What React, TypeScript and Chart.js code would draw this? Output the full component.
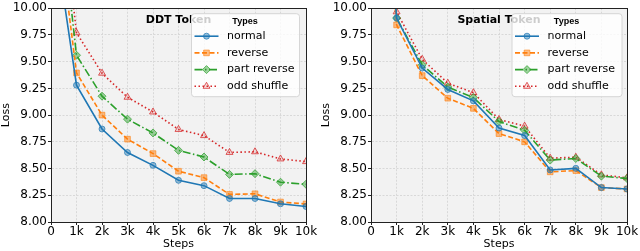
import React, { useEffect, useRef } from 'react';
import { Chart, registerables } from 'chart.js';

Chart.register(...registerables);

const STEPS = [0, 1000, 2000, 3000, 4000, 5000, 6000, 7000, 8000, 9000, 10000];
const SERIES_NAMES = ['normal', 'reverse', 'part reverse', 'odd shuffle'];
const Y_TICKS = [8.0, 8.25, 8.5, 8.75, 9.0, 9.25, 9.5, 9.75, 10.0];

const DDT_NORMAL = [10.9, 9.28, 8.87, 8.65, 8.53, 8.39, 8.34, 8.22, 8.22, 8.17, 8.145];
const DDT_REVERSE = [11.3, 9.395, 9.0, 8.775, 8.64, 8.475, 8.415, 8.258, 8.264, 8.187, 8.169];
const DDT_PART = [11.7, 9.56, 9.177, 8.962, 8.833, 8.67, 8.608, 8.445, 8.452, 8.372, 8.353];
const DDT_ODD = [11.9, 9.77, 9.392, 9.167, 9.029, 8.866, 8.808, 8.651, 8.657, 8.59, 8.565];

const SP_NORMAL = [13.0, 9.908, 9.44, 9.24, 9.133, 8.879, 8.809, 8.487, 8.502, 8.322, 8.309];
const SP_REVERSE = [13.0, 9.844, 9.369, 9.158, 9.063, 8.827, 8.75, 8.469, 8.481, 8.322, 8.309];
const SP_PART = [13.0, 9.908, 9.47, 9.262, 9.164, 8.94, 8.858, 8.579, 8.594, 8.429, 8.407];
const SP_ODD = [13.0, 9.966, 9.522, 9.299, 9.21, 8.959, 8.897, 8.597, 8.606, 8.441, 8.413];

const COLORS = ['#1f77b4', '#ff7f0e', '#2ca02c', '#d62728'];
const FILLS = ['rgba(31,119,180,0.45)', 'rgba(255,127,14,0.5)', 'rgba(44,160,44,0.45)', 'rgba(214,39,40,0.12)'];
const EDGES = ['rgba(31,119,180,0.7)', 'rgba(255,127,14,0.6)', 'rgba(44,160,44,0.7)', 'rgba(214,39,40,0.75)'];
const DASHES: number[][] = [[], [5, 2.5], [8, 2.5, 1.5, 2.5], [1.5, 2.5]];
const POINT_STYLES = ['circle', 'rect', 'rectRot', 'triangle'];
const POINT_RADII = [3, 4, 4, 4];

function drawMarker(ctx: CanvasRenderingContext2D, style: string, x: number, y: number, r: number) {
  ctx.beginPath();
  if (style === 'circle') {
    ctx.arc(x, y, r, 0, Math.PI * 2);
  } else if (style === 'rect') {
    const s = r * Math.SQRT1_2;
    ctx.rect(x - s, y - s, 2 * s, 2 * s);
  } else if (style === 'rectRot') {
    ctx.moveTo(x, y - r);
    ctx.lineTo(x + r, y);
    ctx.lineTo(x, y + r);
    ctx.lineTo(x - r, y);
    ctx.closePath();
  } else {
    ctx.moveTo(x, y - r);
    ctx.lineTo(x + r * 0.866, y + r * 0.5);
    ctx.lineTo(x - r * 0.866, y + r * 0.5);
    ctx.closePath();
  }
  ctx.fill();
  ctx.stroke();
}

const overlayPlugin = {
  id: 'overlay',
  beforeDraw(chart: any) {
    const { ctx, chartArea: a } = chart;
    ctx.save();
    ctx.fillStyle = '#f2f2f2';
    ctx.fillRect(a.left, a.top, a.right - a.left, a.bottom - a.top);
    ctx.restore();
  },
  afterDatasetsDraw(chart: any, _args: any, opts: any) {
    const { ctx, chartArea: a } = chart;
    ctx.save();
    ctx.fillStyle = '#000';
    ctx.font = 'bold 11px "DejaVu Sans"';
    ctx.textAlign = 'center';
    ctx.textBaseline = 'middle';
    ctx.fillText(opts.title, (a.left + a.right) / 2, a.top + 12);

    const bw = opts.lw;
    const bh = 83;
    const bx = a.right - opts.lr - bw;
    const by = a.top + 5;
    ctx.beginPath();
    if ((ctx as any).roundRect) (ctx as any).roundRect(bx + 0.5, by + 0.5, bw, bh, 3);
    else ctx.rect(bx + 0.5, by + 0.5, bw, bh);
    ctx.fillStyle = 'rgba(255,255,255,0.8)';
    ctx.fill();
    ctx.strokeStyle = '#d6d6d6';
    ctx.lineWidth = 1;
    ctx.stroke();

    ctx.fillStyle = '#000';
    ctx.font = 'bold 9px "Liberation Sans"';
    ctx.textAlign = 'center';
    ctx.fillText('Types', bx + bw / 2, by + 8);

    chart.data.datasets.forEach((ds: any, i: number) => {
      const y = by + 23 + i * 16.7;
      ctx.save();
      ctx.strokeStyle = ds.borderColor;
      ctx.lineWidth = 1.6;
      ctx.setLineDash(ds.borderDash || []);
      ctx.beginPath();
      ctx.moveTo(bx + 3.5, y);
      ctx.lineTo(bx + 27.5, y);
      ctx.stroke();
      ctx.setLineDash([]);
      ctx.fillStyle = ds.pointBackgroundColor;
      ctx.strokeStyle = ds.pointBorderColor;
      ctx.lineWidth = 1;
      drawMarker(ctx, ds.pointStyle, bx + 15.5, y, ds.pointRadius);
      ctx.restore();
      ctx.fillStyle = '#000';
      ctx.font = '11px "DejaVu Sans"';
      ctx.textAlign = 'left';
      ctx.textBaseline = 'middle';
      ctx.fillText(ds.label, bx + 36, y);
    });
    ctx.restore();
  },
  afterDraw(chart: any) {
    const { ctx, chartArea: a } = chart;
    ctx.save();
    ctx.strokeStyle = '#222';
    ctx.lineWidth = 1;
    ctx.strokeRect(Math.round(a.left) + 0.5, Math.round(a.top) + 0.5, Math.round(a.right - a.left), Math.round(a.bottom - a.top));
    ctx.restore();
  },
};

function Panel(props: { title: string; series: number[][]; padRight: number; lr: number; lw: number }) {
  const ref = useRef<HTMLCanvasElement>(null);
  useEffect(() => {
    const canvas = ref.current!;
    const chart = new Chart(canvas, {
      type: 'line',
      data: {
        datasets: props.series.map((vals, i) => ({
          label: SERIES_NAMES[i],
          data: STEPS.map((s, j) => ({ x: s, y: vals[j] })),
          borderColor: COLORS[i],
          borderWidth: 1.6,
          borderDash: DASHES[i],
          pointStyle: POINT_STYLES[i] as any,
          pointRadius: POINT_RADII[i],
          pointBackgroundColor: FILLS[i],
          pointBorderColor: EDGES[i],
          pointBorderWidth: 1,
          tension: 0,
          fill: false,
        })),
      },
      options: {
        animation: false,
        responsive: false,
        devicePixelRatio: 1,
        layout: { padding: { top: 5, right: props.padRight, left: 0, bottom: 0 } },
        plugins: {
          legend: { display: false },
          tooltip: { enabled: false },
          overlay: { title: props.title, lr: props.lr, lw: props.lw },
        } as any,
        scales: {
          x: {
            type: 'linear',
            min: 0,
            max: 10000,
            afterBuildTicks: (scale: any) => {
              scale.ticks = STEPS.map((v) => ({ value: v }));
            },
            afterFit: (scale: any) => {
              scale.height = 29;
            },
            ticks: {
              color: '#000',
              font: { size: 12, family: 'DejaVu Sans' },
              padding: 0,
              maxRotation: 0,
              autoSkip: false,
              callback: (v: any) => (v === 0 ? '0' : `${v / 1000}k`),
            },
            grid: { color: '#d8d8d8', tickColor: '#222', tickLength: 3, lineWidth: 1 },
            border: { display: true, color: '#222', dash: [2, 1.5] },
            title: { display: true, text: 'Steps', color: '#000', font: { size: 11, family: 'DejaVu Sans' }, padding: { top: 0, bottom: 0 } },
          },
          y: {
            type: 'linear',
            min: 8,
            max: 10,
            afterBuildTicks: (scale: any) => {
              scale.ticks = Y_TICKS.map((v) => ({ value: v }));
            },
            afterFit: (scale: any) => {
              scale.width = 51;
            },
            ticks: {
              color: '#000',
              font: { size: 12, family: 'DejaVu Sans' },
              padding: 1,
              autoSkip: false,
              callback: (v: any) => Number(v).toFixed(2),
            },
            grid: { color: '#d8d8d8', tickColor: '#222', tickLength: 3, lineWidth: 1 },
            border: { display: true, color: '#222', dash: [2, 1.5] },
            title: { display: true, text: 'Loss', color: '#000', font: { size: 11, family: 'DejaVu Sans' }, padding: { top: 0, bottom: 0 } },
          },
        },
      },
      plugins: [overlayPlugin as any],
    });
    return () => chart.destroy();
  }, []);
  return <canvas ref={ref} width={320} height={251} style={{ display: 'block', width: 320, height: 251 }} />;
}

export default function App() {
  return (
    <div style={{ position: 'absolute', left: 0, top: 0, width: 640, height: 251, display: 'flex', background: '#fff' }}>
      <Panel title="DDT Token" series={[DDT_NORMAL, DDT_REVERSE, DDT_PART, DDT_ODD]} padRight={14} lr={7} lw={108} />
      <Panel title="Spatial Token" series={[SP_NORMAL, SP_REVERSE, SP_PART, SP_ODD]} padRight={13} lr={5.5} lw={110} />
    </div>
  );
}
